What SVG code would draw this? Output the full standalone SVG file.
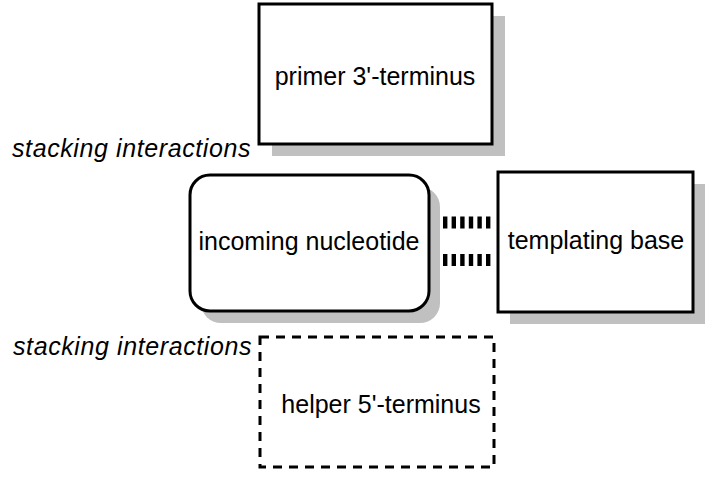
<svg xmlns="http://www.w3.org/2000/svg" width="713" height="477" viewBox="0 0 713 477">
<style>
.box{fill:#fff;stroke:#000;stroke-width:3}
.shadow{fill:#c0c0c0;stroke:none}
.lbl{font-family:"Liberation Sans",Arial,sans-serif;font-size:25px;fill:#000;text-anchor:middle}
.ital{font-family:"Liberation Sans",Arial,sans-serif;font-size:25px;font-style:italic;fill:#000;letter-spacing:0.6px}
.hb{stroke:#000;stroke-width:12;stroke-dasharray:4.4,4.2;fill:none}
</style>
<rect width="713" height="477" fill="#fff"/>
<g id="primer">
<rect class="shadow" x="272" y="16" width="233" height="140"/>
<rect class="box" x="259" y="4" width="233" height="140"/>
<text class="lbl" x="375" y="85">primer 3'-terminus</text>
</g>
<g id="incoming">
<rect class="shadow" x="201" y="187" width="239" height="136" rx="20"/>
<rect class="box" x="190" y="175" width="239" height="136" rx="20"/>
<text class="lbl" x="309" y="250">incoming nucleotide</text>
</g>
<g id="templating">
<rect class="shadow" x="510" y="184" width="195" height="140"/>
<rect class="box" x="498" y="172" width="195" height="140"/>
<text class="lbl" x="596" y="249">templating base</text>
</g>
<g id="helper">
<rect x="260" y="337" width="234" height="130" fill="none" stroke="#000" stroke-width="3" stroke-dasharray="9,7"/>
<text class="lbl" x="381" y="413">helper 5'-terminus</text>
</g>
<g id="labels">
<text class="ital" x="12" y="157">stacking interactions</text>
<text class="ital" x="13" y="355">stacking interactions</text>
</g>
<g id="connectors">
<line class="hb" x1="443" y1="222.5" x2="494" y2="222.5"/>
<line class="hb" x1="443" y1="260" x2="494" y2="260"/>
</g>
</svg>
